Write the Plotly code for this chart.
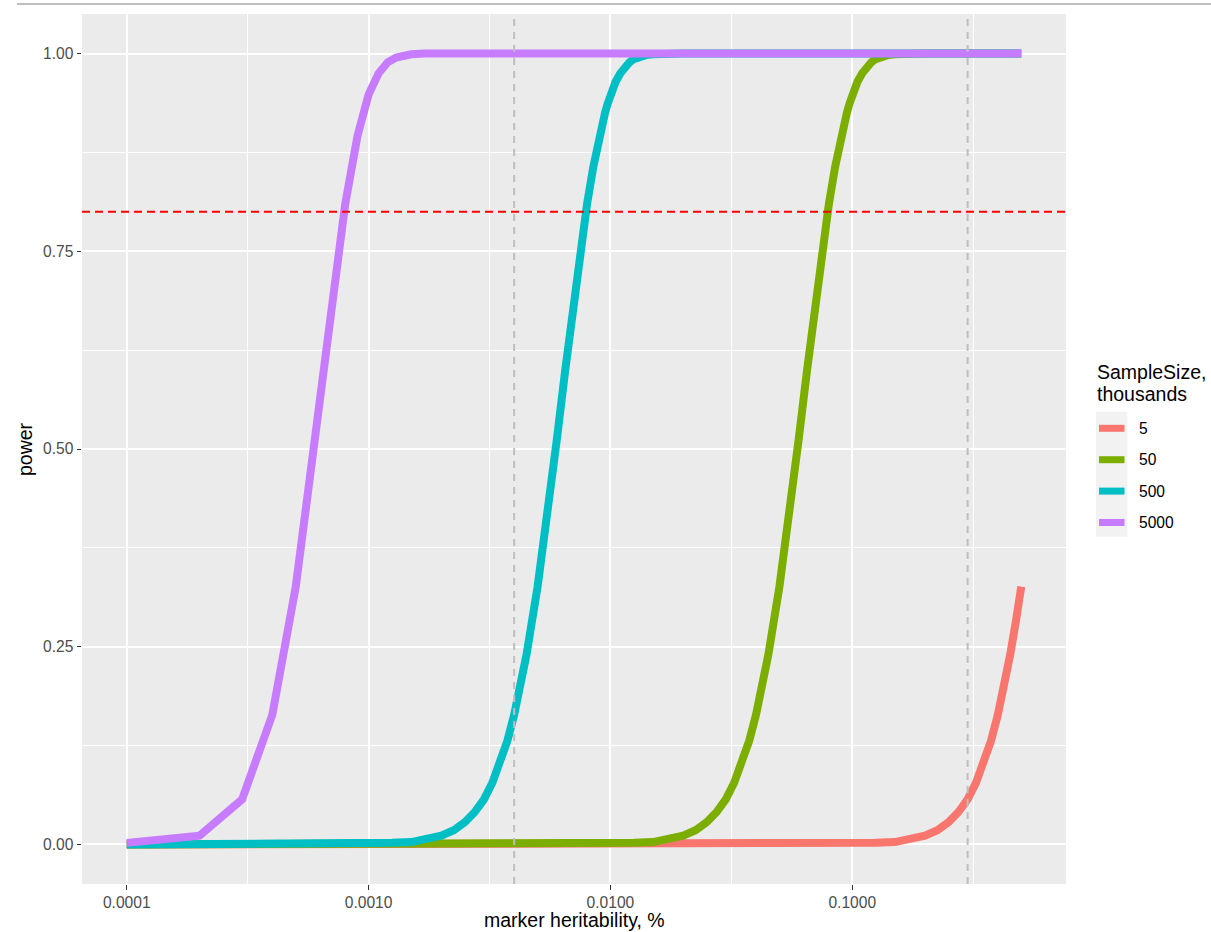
import plotly.graph_objects as go

# ---------------- data ----------------
series_names = ["5", "50", "500", "5000"]
series_colors = ["#F8766D", "#7CAE00", "#00BFC4", "#C77CFF"]

x5 = [0.0001, 0.0010, 0.0100, 0.0500, 0.0700, 0.1000, 0.1250, 0.1500, 0.1750, 0.2000, 0.2250,
      0.2500, 0.2750, 0.3000, 0.3250, 0.3500, 0.3750, 0.4000, 0.4250, 0.4500, 0.4750, 0.5000]
y5 = [0.0, 0.0, 0.0, 0.0, 0.0002, 0.001, 0.002, 0.003, 0.006, 0.011, 0.018,
      0.028, 0.041, 0.057, 0.078, 0.103, 0.131, 0.164, 0.200, 0.240, 0.282, 0.326]

x50 = [0.0001, 0.0010, 0.0050, 0.0070, 0.0100, 0.0125, 0.0150, 0.0175, 0.0200, 0.0225, 0.0250,
       0.0275, 0.0300, 0.0325, 0.0350, 0.0375, 0.0400, 0.0450, 0.0500, 0.0550, 0.0600,
       0.0650, 0.0700, 0.0750, 0.0800, 0.0850, 0.0875, 0.0900, 0.0925, 0.0950, 0.0975,
       0.1000, 0.1050, 0.1100, 0.1150, 0.1200, 0.1250, 0.1300, 0.1350, 0.1400, 0.1500,
       0.1700, 0.2000, 0.5000]
y50 = [0.0, 0.0, 0.0, 0.0002, 0.001, 0.002, 0.003, 0.006, 0.011, 0.018, 0.028,
       0.041, 0.057, 0.078, 0.103, 0.131, 0.164, 0.240, 0.326, 0.418, 0.511,
       0.599, 0.679, 0.750, 0.809, 0.857, 0.878, 0.896, 0.912, 0.925, 0.937,
       0.948, 0.964, 0.975, 0.984, 0.989, 0.993, 0.9955, 0.997, 0.998, 0.999,
       1.0, 1.0, 1.0]

x500 = [0.0001, 0.0005, 0.0007, 0.0010, 0.00125, 0.0015, 0.00175, 0.0020, 0.00225, 0.0025, 0.00275,
        0.0030, 0.00325, 0.0035, 0.00375, 0.0040, 0.0045, 0.0050, 0.0055, 0.0060, 0.0065,
        0.0070, 0.0075, 0.0080, 0.0085, 0.00875, 0.0090, 0.00925, 0.0095, 0.00975,
        0.0100, 0.0105, 0.0110, 0.0115, 0.0120, 0.0125, 0.0130, 0.0135,
        0.0140, 0.0150, 0.0170, 0.0200, 0.0500, 0.1000, 0.5000]
y500 = [0.0, 0.0, 0.0002, 0.001, 0.002, 0.003, 0.006, 0.011, 0.018, 0.028, 0.041,
        0.057, 0.078, 0.103, 0.131, 0.164, 0.240, 0.326, 0.418, 0.511, 0.599,
        0.679, 0.750, 0.809, 0.857, 0.878, 0.896, 0.912, 0.925, 0.937,
        0.948, 0.964, 0.975, 0.984, 0.989, 0.993, 0.9955, 0.997,
        0.998, 0.999, 1.0, 1.0, 1.0, 1.0, 1.0]

x5000 = [0.0001, 0.0002, 0.0003, 0.0004, 0.0005, 0.0006, 0.0007, 0.0008, 0.0009, 0.0010,
         0.0011, 0.0012, 0.0013, 0.0014, 0.0015, 0.0017, 0.0020, 0.0050, 0.0100, 0.0500,
         0.1000, 0.5000]
y5000 = [0.002, 0.011, 0.057, 0.164, 0.326, 0.511, 0.679, 0.809, 0.896, 0.948,
         0.975, 0.989, 0.995, 0.998, 0.999, 1.0, 1.0, 1.0, 1.0, 1.0,
         1.0, 1.0]

power_threshold = 0.8
vline_positions = [0.004, 0.3]

x_tickvals = [0.0001, 0.001, 0.01, 0.1]
x_ticktext = ["0.0001", "0.0010", "0.0100", "0.1000"]
x_minor = [0.000316, 0.00316, 0.0316, 0.316]
y_tickvals = [0.0, 0.25, 0.5, 0.75, 1.0]
y_ticktext = ["0.00", "0.25", "0.50", "0.75", "1.00"]
y_minor = [0.125, 0.375, 0.625, 0.875]

# ---------------- layout geometry ----------------
W, H = 1211, 932
L, R, T, B = 82, 1066, 14, 884
FONT = "Liberation Sans, Arial, Helvetica, sans-serif"

def px_x(p):
    return (p - L) / (R - L)

def px_y(p):
    return (B - p) / (B - T)

fig = go.Figure()

xs = [x5, x50, x500, x5000]
ys = [y5, y50, y500, y5000]
for name, col, xv, yv in zip(series_names, series_colors, xs, ys):
    fig.add_trace(go.Scatter(x=xv, y=yv, mode="lines", name=name,
                             line=dict(color=col, width=8), showlegend=False,
                             hoverinfo="x+y+name"))

for v in vline_positions:
    fig.add_trace(go.Scatter(x=[v, v], y=[-0.05, 1.05], mode="lines",
                             line=dict(color="#BEBEBE", width=2, dash="7px,6px"),
                             showlegend=False, hoverinfo="skip"))

shapes = [
    dict(type="line", xref="paper", yref="y", x0=0, x1=1,
         y0=power_threshold, y1=power_threshold,
         line=dict(color="#FF0000", width=2, dash="8px,5px"), layer="above"),
    # top border line of the picture
    dict(type="line", xref="paper", yref="paper", x0=px_x(17), x1=px_x(1212),
         y0=px_y(4), y1=px_y(4), line=dict(color="#A8A8A8", width=1.5)),
    # legend key background
    dict(type="rect", xref="paper", yref="paper", x0=px_x(1096), x1=px_x(1127.3),
         y0=px_y(536.7), y1=px_y(411.7), fillcolor="#F2F2F2", line=dict(width=0)),
]

annotations = [
    dict(text="power", xref="paper", yref="paper", x=px_x(25), y=0.5,
         textangle=-90, showarrow=False, xanchor="center", yanchor="middle",
         font=dict(family=FONT, size=19.5, color="#000000")),
    dict(text="marker heritability, %", xref="paper", yref="paper", x=0.5, y=px_y(920),
         showarrow=False, xanchor="center", yanchor="middle",
         font=dict(family=FONT, size=19.5, color="#000000")),
    dict(text="SampleSize,", xref="paper", yref="paper", x=px_x(1095), y=px_y(372),
         showarrow=False, xanchor="left", yanchor="middle",
         font=dict(family=FONT, size=19.5, color="#000000")),
    dict(text="thousands", xref="paper", yref="paper", x=px_x(1095), y=px_y(394),
         showarrow=False, xanchor="left", yanchor="middle",
         font=dict(family=FONT, size=19.5, color="#000000")),
]

key_y0, key_step = 428.3, 31.4
for i, (name, col) in enumerate(zip(series_names, series_colors)):
    yc = key_y0 + i * key_step
    shapes.append(dict(type="line", xref="paper", yref="paper",
                       x0=px_x(1099), x1=px_x(1124.5), y0=px_y(yc), y1=px_y(yc),
                       line=dict(color=col, width=7)))
    annotations.append(dict(text=name, xref="paper", yref="paper", x=px_x(1136.5),
                            y=px_y(yc), showarrow=False, xanchor="left", yanchor="middle",
                            font=dict(family=FONT, size=15.6, color="#000000")))

fig.update_layout(
    width=W, height=H,
    margin=dict(l=L, r=W - R, t=T, b=H - B, pad=0),
    paper_bgcolor="white", plot_bgcolor="#EBEBEB",
    font=dict(family=FONT, size=15.6, color="#4D4D4D"),
    shapes=shapes, annotations=annotations, showlegend=False,
    xaxis=dict(type="log", range=[-4.185, -0.116], tickmode="array",
               tickvals=x_tickvals, ticktext=x_ticktext,
               showgrid=True, gridcolor="white", gridwidth=1.8,
               minor=dict(tickmode="array", tickvals=x_minor, showgrid=True,
                          gridcolor="white", gridwidth=0.9, ticks=""),
               ticks="outside", ticklen=4.5, tickwidth=1.1, tickcolor="#333333",
               tickfont=dict(family=FONT, size=15.6, color="#4D4D4D"),
               zeroline=False, showline=False),
    yaxis=dict(range=[-0.05, 1.05], tickmode="array",
               tickvals=y_tickvals, ticktext=y_ticktext,
               showgrid=True, gridcolor="white", gridwidth=1.8,
               minor=dict(tickmode="array", tickvals=y_minor, showgrid=True,
                          gridcolor="white", gridwidth=0.9, ticks=""),
               ticks="outside", ticklen=4.5, tickwidth=1.1, tickcolor="#333333",
               tickfont=dict(family=FONT, size=15.6, color="#4D4D4D"),
               zeroline=False, showline=False),
)

fig.write_html("out.html")
